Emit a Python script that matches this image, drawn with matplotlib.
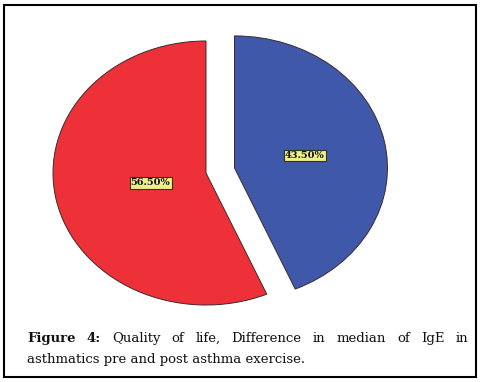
import matplotlib
matplotlib.use("Agg")
import matplotlib.pyplot as plt
from matplotlib.patches import Rectangle
import numpy as np

# data
labels = ["43.50%", "56.50%"]
values = [43.5, 56.5]
colors = ["#3F58A9", "#EE3139"]
explode = [0.19, 0.0]
label_dist = [0.47, 0.37]

caption_bold = ["Figure", "4:"]
caption_line1 = ["Quality", "of", "life,", "Difference", "in", "median", "of", "IgE", "in"]
caption_line2 = "asthmatics pre and post asthma exercise."

W, H = 481, 382
fig = plt.figure(figsize=(W / 100, H / 100), dpi=100)

# pie axes covering the whole figure, pixel mapping: x = 206 + 153*u, y = 173 - 132*v
cx, cy, rx, ry = 206, 173, 153, 132
ax = fig.add_axes([0, 0, 1, 1])
wedges, _ = ax.pie(values, colors=colors, explode=explode, startangle=90,
                   counterclock=False, frame=False,
                   wedgeprops=dict(edgecolor="#3a2a2a", linewidth=0.7))
ax.set_aspect("auto")
ax.set_xlim(-cx / rx, (W - cx) / rx)
ax.set_ylim((cy - H) / ry, cy / ry)
ax.axis("off")

for w, lab, d in zip(wedges, labels, label_dist):
    ang = np.deg2rad((w.theta1 + w.theta2) / 2)
    x0, y0 = w.center
    ax.text(x0 + d * np.cos(ang), y0 + d * np.sin(ang), lab,
            ha="center", va="center", fontsize=7, fontweight="bold",
            family="DejaVu Serif", color="#111111",
            bbox=dict(boxstyle="square,pad=0.12", facecolor="#EEEE8A",
                      edgecolor="#333322", linewidth=0.8))

# outer frame
fig.patches.append(Rectangle((4 / W, 5 / H), 472 / W, 372 / H, transform=fig.transFigure,
                             fill=False, edgecolor="black", linewidth=1.5))

# caption, first line justified between x=27 and x=468
fs = 9.5
fam = "DejaVu Serif"
renderer = fig.canvas.get_renderer()
words = [(t, "bold") for t in caption_bold] + [(t, "normal") for t in caption_line1]
texts = []
for t, wt in words:
    txt = fig.text(0, 0, t, fontsize=fs, family=fam, fontweight=wt, color="#111111",
                   va="baseline", ha="left")
    texts.append(txt)
widths = [txt.get_window_extent(renderer).width for txt in texts]
left, right = 27, 468
gap = (right - left - sum(widths)) / (len(words) - 1)
x = left
for txt, wd in zip(texts, widths):
    txt.set_position((x / W, 1 - 342 / H))
    x += wd + gap

fig.text(left / W, 1 - 363 / H, caption_line2, fontsize=fs, family=fam,
         color="#111111", va="baseline", ha="left")

fig.savefig("out.png", dpi=100)
